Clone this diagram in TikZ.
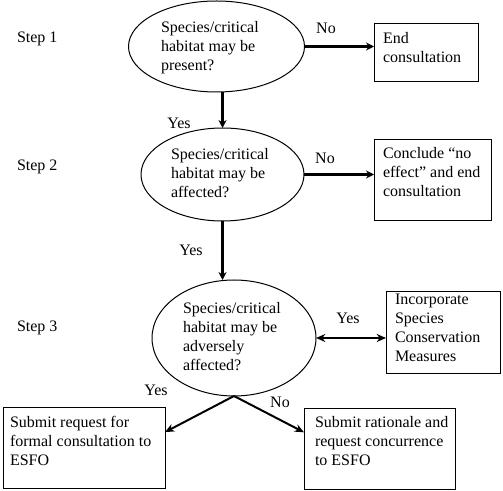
\documentclass[tikz,border=0pt]{standalone}
\usepackage{fontspec}
\setmainfont{Liberation Serif}
\usetikzlibrary{shapes.geometric,arrows.meta,calc}
\tikzset{
  ell/.style={draw, ellipse, line width=0.75pt, inner sep=0pt, outer sep=0pt},
  box/.style={draw, rectangle, line width=0.75pt, inner sep=0pt, outer sep=0pt},
  txt/.style={inner sep=0pt, outer sep=0pt, align=left, anchor=north west,
              font=\fontsize{12pt}{14.3pt}\selectfont},
  lbl/.style={inner sep=0pt, outer sep=0pt, font=\fontsize{12pt}{14.3pt}\selectfont},
  thickarrow/.style={line width=2.25pt, -{Stealth[length=6pt,width=6pt]}},
  thinarrow/.style={line width=1.5pt, -{Stealth[length=7pt,width=6pt]}},
  dblarrow/.style={line width=1.5pt, {Stealth[length=7pt,width=6pt]}-{Stealth[length=7pt,width=6pt]}}
}
\begin{document}
\begin{tikzpicture}[x=0.75pt, y=-0.75pt]
\useasboundingbox (0,0) rectangle (503,491);
% step labels
\node[lbl, anchor=west] (s1) at (17,39) {Step 1};
\node[lbl, anchor=west] (s2) at (17,167) {Step 2};
\node[lbl, anchor=west] (s3) at (17,328) {Step 3};
% ellipses
\node[ell, minimum width=132pt, minimum height=68.25pt] (e1) at (216.5,46.5) {};
\node[txt] (t1) at (161,21) {Species/critical\\habitat may be\\present?};
\node[ell, minimum width=122.25pt, minimum height=69.75pt] (e2) at (222.5,174.5) {};
\node[txt] (t2) at (171,148) {Species/critical\\habitat may be\\affected?};
\node[ell, minimum width=123pt, minimum height=87pt] (e3) at (234,338) {};
\node[txt] (t3) at (183,302) {Species/critical\\habitat may be\\adversely\\affected?};
% boxes
\node[box, minimum width=78pt, minimum height=43.5pt] (b1) at (426,53) {};
\node[txt] (tb1) at (383,32) {End\\consultation};
\node[box, minimum width=87.75pt, minimum height=60.75pt] (b2) at (432.5,180.5) {};
\node[txt] (tb2) at (383,147) {Conclude “no\\effect” and end\\consultation};
\node[box, minimum width=85.5pt, minimum height=60.75pt] (b3) at (443,332.5) {};
\node[txt] (tb3) at (395,294) {Incorporate\\Species\\Conservation\\Measures};
\node[box, minimum width=121.5pt, minimum height=60.75pt] (b4) at (84,447.5) {};
\node[txt] (tb4) at (10,416) {Submit request for\\formal consultation to\\ESFO};
\node[box, minimum width=113.25pt, minimum height=60.75pt] (b5) at (379.5,448.5) {};
\node[txt] (tb5) at (315,416) {Submit rationale and\\request concurrence\\to ESFO};
% connector labels
\node[lbl] (n1) at (326,28) {No};
\node[lbl] (y1) at (179,123) {Yes};
\node[lbl] (n2) at (325,158) {No};
\node[lbl] (y2) at (191,250) {Yes};
\node[lbl] (y3) at (348,318) {Yes};
\node[lbl] (y4) at (156,390) {Yes};
\node[lbl] (n4) at (280,402) {No};
% connectors
\draw[thickarrow] (e1.east) -- (e1.east -| b1.west);
\draw[thickarrow] (e2.north |- e1.south) -- (e2.north);
\draw[thickarrow] (e2.east) -- (e2.east -| b2.west);
\draw[thickarrow] (e2.south) -- (e2.south |- e3.north);
\draw[dblarrow] (e3.east) -- (e3.east -| b3.west);
\coordinate (p4) at ($(b4.north east)!0.31!(b4.south east)$);
\coordinate (p5) at ($(b5.north west)!0.30!(b5.south west)$);
\draw[thinarrow] (e3.south) -- (p4);
\draw[thinarrow] (e3.south) -- (p5);
\end{tikzpicture}
\end{document}
